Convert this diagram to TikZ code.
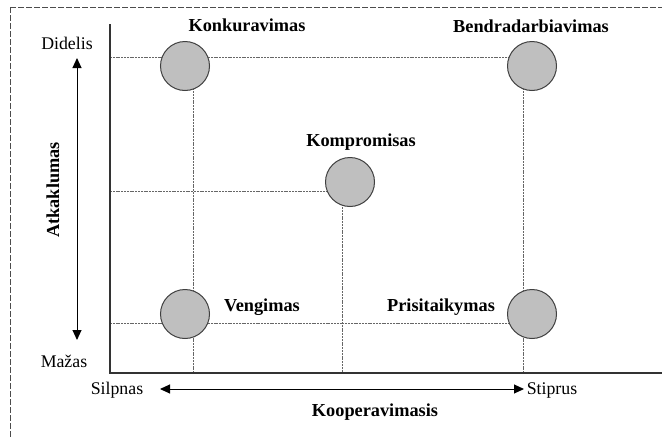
\documentclass[tikz,border=0pt]{standalone}
\usepackage{fontspec}
\setmainfont{Liberation Serif}
\usetikzlibrary{arrows.meta}
\begin{document}
\begin{tikzpicture}[x=1pt,y=-1pt,
  guide/.style={draw=black!60,line width=0.6pt,dash pattern=on 2pt off 0.8pt},
  axis/.style={draw=black!80,line width=1.1pt},
  ball/.style={circle,fill=black!25,draw=black!75,line width=1pt,minimum size=49pt,inner sep=0pt},
  lbl/.style={font=\fontsize{18.3}{20}\selectfont\bfseries,inner sep=0pt},
  tick/.style={font=\fontsize{17.8}{20}\selectfont,inner sep=0pt},
  arr/.style={line width=1pt,{Triangle[length=10pt,width=9pt]}-{Triangle[length=10pt,width=9pt]}}]
\useasboundingbox (0,0) rectangle (662,437);
\clip (0,0) rectangle (662,437);
\draw[draw=black!70,line width=1pt,dash pattern=on 6pt off 2pt] (10,7) rectangle (700,480);
% coordinates
\coordinate (o) at (110,373);
\coordinate (ytop) at (110,24);
\coordinate (xend) at (662,373);
\coordinate (h1a) at (110,57);
\coordinate (h1b) at (532,57);
\coordinate (h2a) at (110,191);
\coordinate (h2b) at (350,191);
\coordinate (h3a) at (110,323);
\coordinate (h3b) at (532,323);
\coordinate (v1a) at (193,66);
\coordinate (v1b) at (193,373);
\coordinate (v2a) at (342,182);
\coordinate (v2b) at (342,373);
\coordinate (v3a) at (523,66);
\coordinate (v3b) at (523,373);
% guides
\draw[guide] (h1a) -- (h1b);
\draw[guide] (h2a) -- (h2b);
\draw[guide] (h3a) -- (h3b);
\draw[guide] (v1a) -- (v1b);
\draw[guide] (v2a) -- (v2b);
\draw[guide] (v3a) -- (v3b);
% axes
\draw[axis] (ytop) -- (o) -- (xend);
% circles
\node[ball] (konk) at (185,66) {};
\node[ball] (bend) at (532,66) {};
\node[ball] (komp) at (350,182) {};
\node[ball] (veng) at (185,314) {};
\node[ball] (pris) at (532,314) {};
% labels
\node[lbl] (lkonk) at (247,25) {Konkuravimas};
\node[lbl] (lbend) at (531,26) {Bendradarbiavimas};
\node[lbl] (lkomp) at (361,142) {Kompromisas};
\node[lbl] (lveng) at (262,307) {Vengimas};
\node[lbl] (lpris) at (441,307) {Prisitaikymas};
\node[lbl,rotate=90] (latk) at (53,190) {Atkaklumas};
\node[lbl] (lkoop) at (375,412) {Kooperavimasis};
\node[tick] (did) at (67,43) {Didelis};
\node[tick] (maz) at (64,361) {Mažas};
\node[tick] (sil) at (117,390) {Silpnas};
\node[tick] (sti) at (552,390) {Stiprus};
% arrows
\coordinate (ya) at (77,58);
\coordinate (yb) at (77,340);
\coordinate (xa) at (160,389);
\coordinate (xb) at (524,389);
\draw[arr] (ya) -- (yb);
\draw[arr] (xa) -- (xb);
\end{tikzpicture}
\end{document}
